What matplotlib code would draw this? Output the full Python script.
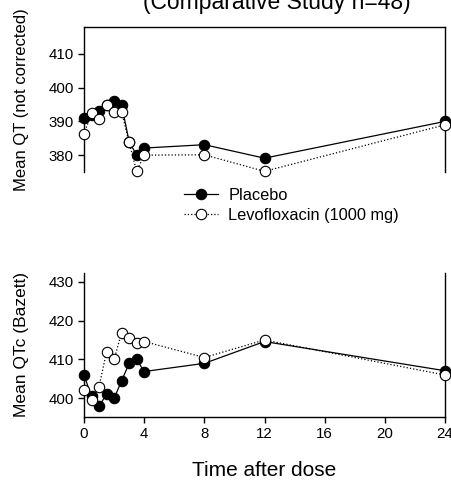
import matplotlib
matplotlib.use("Agg")
import matplotlib.pyplot as plt

plt.rcParams['font.family'] = ['Liberation Sans', 'DejaVu Sans']

# Data
time_h = [0, 0.5, 1, 1.5, 2, 2.5, 3, 3.5, 4, 8, 12, 24]
qt_placebo = [391, 392, 393.2, 395, 396.1, 394.9, 384, 380, 382.1, 383.1, 379.1, 390]
qt_levo = [386.3, 392.4, 390.7, 394.9, 392.7, 392.9, 383.8, 375.2, 380, 380.1, 375.2, 389]
qtc_placebo = [406, 400.5, 398, 401.1, 400, 404.5, 409, 410, 406.9, 409, 414.6, 407.1]
qtc_levo = [402.1, 399.7, 403, 412, 410, 416.9, 415.4, 414.1, 414.6, 410.5, 415, 406]
x_ticks = [0, 4, 8, 12, 16, 20, 24]
qt_ticks = [380, 390, 400, 410]
qtc_ticks = [400, 410, 420, 430]

W, H = 451, 483
fig = plt.figure(figsize=(W / 100, H / 100), dpi=100)

def fx(px):
    return px / W

def fy(py):
    return 1 - py / H

ax1 = fig.add_axes([fx(84), fy(172), fx(445) - fx(84), fy(27) - fy(172)])
ax2 = fig.add_axes([fx(84), fy(416.7), fx(445) - fx(84), fy(273) - fy(416.7)])

ms = 7.5
lw = 0.9
for ax, p, l in [(ax1, qt_placebo, qt_levo), (ax2, qtc_placebo, qtc_levo)]:
    ax.plot(time_h, p, '-', color='black', lw=lw, marker='o', ms=ms,
            mfc='black', mec='black', mew=0.8, clip_on=False, zorder=3,
            label='Placebo')
    ax.plot(time_h, l, ':', color='black', lw=lw, marker='o', ms=ms,
            mfc='white', mec='black', mew=0.8, clip_on=False, zorder=4,
            label='Levofloxacin (1000 mg)')
    ax.set_xlim(0, 24)
    for s in ax.spines.values():
        s.set_linewidth(1.0)
    ax.tick_params(direction='out', length=4, width=1.0, labelsize=10.8)

# Top panel
ax1.set_ylim(375, 418)
ax1.set_yticks(qt_ticks)
ax1.spines['bottom'].set_visible(False)
ax1.set_xticks([])
ax1.set_ylabel('Mean QT (not corrected)', fontsize=12, labelpad=14)

# Bottom panel
ax2.set_ylim(395.3, 432.2)
ax2.set_yticks(qtc_ticks)
ax2.set_xticks(x_ticks)
ax2.spines['top'].set_visible(False)
ax2.set_ylabel('Mean QTc (Bazett)', fontsize=12.5, labelpad=14)
ax2.set_xlabel('Time after dose', fontsize=15, labelpad=14)

handles, labels = ax1.get_legend_handles_labels()
fig.legend(handles, labels, loc='upper left',
           bbox_to_anchor=(fx(184), fy(188)), frameon=False, fontsize=11.8,
           handlelength=2.1, handletextpad=0.6, borderpad=0, borderaxespad=0,
           labelspacing=0.3)

fig.text(fx(277), fy(2), '(Comparative Study n=48)', ha='center', va='center',
         fontsize=16.5)

fig.savefig('out.png', dpi=100)
